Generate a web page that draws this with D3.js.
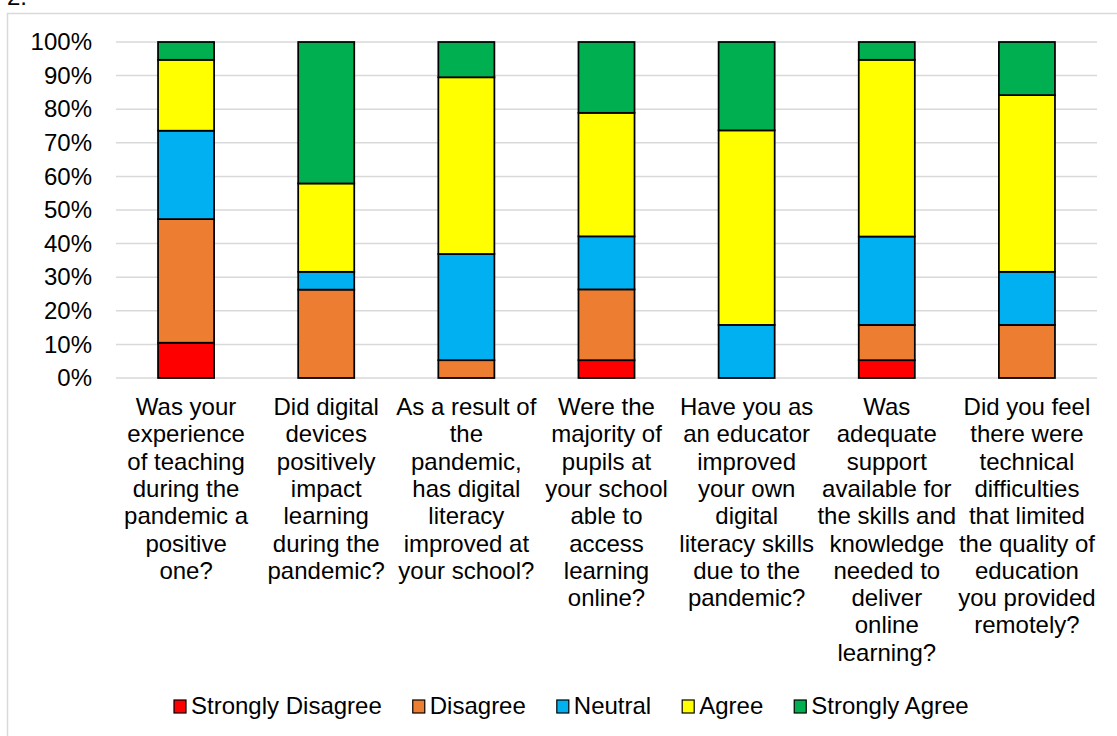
<!DOCTYPE html>
<html>
<head>
<meta charset="utf-8">
<script src="https://cdn.jsdelivr.net/npm/d3@7"></script>
<style>
  html, body { margin: 0; padding: 0; background: #fff; }
  svg { display: block; font-family: "Liberation Sans", Arial, sans-serif; }
</style>
</head>
<body>
<svg id="chart" width="1117" height="736"></svg>
<script>
// Survey questions (one label line per entry)
const categories = [
  ["Was your", "experience", "of teaching", "during the", "pandemic a", "positive", "one?"],
  ["Did digital", "devices", "positively", "impact", "learning", "during the", "pandemic?"],
  ["As a result of", "the", "pandemic,", "has digital", "literacy", "improved at", "your school?"],
  ["Were the", "majority of", "pupils at", "your school", "able to", "access", "learning", "online?"],
  ["Have you as", "an educator", "improved", "your own", "digital", "literacy skills", "due to the", "pandemic?"],
  ["Was", "adequate", "support", "available for", "the skills and", "knowledge", "needed to", "deliver", "online", "learning?"],
  ["Did you feel", "there were", "technical", "difficulties", "that limited", "the quality of", "education", "you provided", "remotely?"]
];

// Share of responses per answer (%)
const stronglyDisagree = [10.5, 0, 0, 5.3, 0, 5.3, 0];
const disagree         = [36.8, 26.3, 5.3, 21.1, 0, 10.5, 15.8];
const neutral          = [26.3, 5.3, 31.6, 15.8, 15.8, 26.3, 15.8];
const agree            = [21.1, 26.3, 52.6, 36.8, 57.9, 52.6, 52.6];
const stronglyAgree    = [5.3, 42.1, 10.5, 21.1, 26.3, 5.3, 15.8];

const seriesNames = ["Strongly Disagree", "Disagree", "Neutral", "Agree", "Strongly Agree"];
const seriesValues = [stronglyDisagree, disagree, neutral, agree, stronglyAgree];
const seriesColors = ["#ff0000", "#ed7d31", "#00b0f0", "#ffff00", "#00b050"];

const yTicks = [0, 0.1, 0.2, 0.3, 0.4, 0.5, 0.6, 0.7, 0.8, 0.9, 1];

const svg = d3.select("#chart");

// outer frame and stray caption at top
svg.append("rect")
  .attr("x", 7.5).attr("y", 13.5)
  .attr("width", 1130).attr("height", 740)
  .attr("fill", "none").attr("stroke", "#d9d9d9").attr("stroke-width", 1.5);

svg.append("text")
  .attr("x", 7).attr("y", 5)
  .attr("font-size", 24).attr("fill", "#000")
  .text("2.");

const rows = categories.map((c, i) => {
  const r = { idx: i };
  seriesNames.forEach((s, k) => r[s] = seriesValues[k][i]);
  return r;
});

const stacked = d3.stack()
  .keys(seriesNames)
  .offset(d3.stackOffsetExpand)(rows);

const x = d3.scaleBand()
  .domain(d3.range(categories.length))
  .range([116, 1097])
  .paddingInner(0.6)
  .paddingOuter(0.3);

const y = d3.scaleLinear().domain([0, 1]).range([378, 42]);

// gridlines
svg.append("g")
  .selectAll("line")
  .data(yTicks)
  .join("line")
  .attr("x1", 116).attr("x2", 1097)
  .attr("y1", d => y(d)).attr("y2", d => y(d))
  .attr("stroke", "#d9d9d9").attr("stroke-width", 1.5);

// y axis labels
const yAxis = d3.axisLeft(y)
  .tickValues(yTicks)
  .tickFormat(d3.format(".0%"))
  .tickSize(0)
  .tickPadding(0);

svg.append("g")
  .attr("transform", "translate(92,0)")
  .call(yAxis)
  .call(g => g.select(".domain").remove())
  .call(g => g.selectAll("text")
    .attr("font-size", 24)
    .attr("font-family", "'Liberation Sans', Arial, sans-serif")
    .attr("fill", "#000"));

// stacked bars
svg.append("g")
  .selectAll("g")
  .data(stacked)
  .join("g")
  .attr("fill", (d, i) => seriesColors[i])
  .selectAll("rect")
  .data(d => d.filter(p => p[1] - p[0] > 0))
  .join("rect")
  .attr("x", d => x(d.data.idx))
  .attr("width", x.bandwidth())
  .attr("y", d => y(d[1]))
  .attr("height", d => y(d[0]) - y(d[1]))
  .attr("stroke", "#000")
  .attr("stroke-width", 1.75);

// category labels
const catG = svg.append("g");
categories.forEach((lines, i) => {
  const t = catG.append("text")
    .attr("text-anchor", "middle")
    .attr("font-size", 24)
    .attr("fill", "#000");
  lines.forEach((ln, j) => {
    t.append("tspan")
      .attr("x", x(i) + x.bandwidth() / 2)
      .attr("y", 415 + j * 27.3)
      .text(ln);
  });
});

// legend
const legend = svg.append("g");
let lx = 174;
seriesNames.forEach((name, i) => {
  legend.append("rect")
    .attr("x", lx).attr("y", 700)
    .attr("width", 12).attr("height", 13)
    .attr("fill", seriesColors[i])
    .attr("stroke", "#000").attr("stroke-width", 1.2);
  const t = legend.append("text")
    .attr("x", lx + 17).attr("y", 714)
    .attr("font-size", 24)
    .attr("fill", "#000")
    .text(name);
  lx = lx + 17 + t.node().getComputedTextLength() + 31;
});
</script>
</body>
</html>
